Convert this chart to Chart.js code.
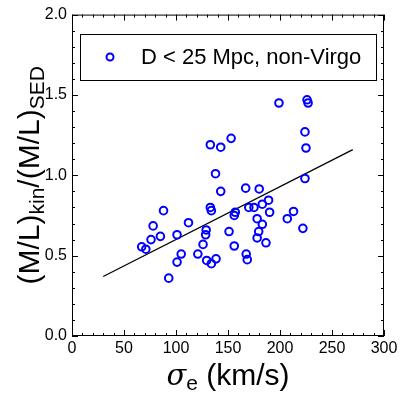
<!DOCTYPE html>
<html>
<head>
<meta charset="utf-8">
<script src="https://cdn.jsdelivr.net/npm/chart.js@4"></script>
<style>
  html, body { margin: 0; padding: 0; background: #fff; }
  #wrap { width: 407px; height: 396px; }
</style>
</head>
<body>
<div id="wrap"><canvas id="myChart" width="407" height="396"></canvas></div>
<script>
// sigma_e (km/s) and (M/L)kin/(M/L)SED
const sigmaE = [199, 226, 227, 224, 225, 224, 153, 133, 143, 138, 143, 167, 180, 189, 183, 170, 175, 190, 213, 207,
  133, 134, 157, 156, 178, 88, 112, 78, 76, 85, 101, 67, 71, 129, 128.5, 126, 121, 105, 101, 129.5,
  138.5, 134, 93, 183, 222, 151, 179.5, 178, 186.5, 156, 167.5, 168.5];
const mlRatio = [1.45, 1.47, 1.45, 1.27, 1.17, 0.98, 1.23, 1.19, 1.175, 1.01, 0.90, 0.92, 0.915, 0.845, 0.82, 0.80, 0.80, 0.77, 0.775, 0.73,
  0.80, 0.78, 0.77, 0.75, 0.73, 0.78, 0.705, 0.685, 0.60, 0.62, 0.63, 0.555, 0.54, 0.66, 0.63, 0.57, 0.51, 0.51, 0.46, 0.47,
  0.48, 0.45, 0.36, 0.695, 0.67, 0.65, 0.65, 0.61, 0.58, 0.56, 0.51, 0.475];
// fit line
const fitX = [30, 270];
const fitY = [0.37, 1.16];
const legendLabel = 'D < 25 Mpc, non-Virgo';
const xTicks = [0, 50, 100, 150, 200, 250, 300];
const yTicks = [0.0, 0.5, 1.0, 1.5, 2.0];

const FONT = '"Liberation Sans", Arial, Helvetica, sans-serif';

// frame, inward ticks on all 4 sides, axis titles, legend box
const decor = {
  id: 'decor',
  afterDraw(chart) {
    const c = chart.ctx, a = chart.chartArea;
    const xs = chart.scales.x, ys = chart.scales.y;
    c.save();
    c.strokeStyle = '#000';
    c.lineWidth = 1;
    c.strokeRect(a.left + 0.5, a.top + 0.5, a.right - a.left - 1, a.bottom - a.top - 1);
    c.beginPath();
    for (let v = 0; v <= 300; v += 10) {
      const px = Math.round(xs.getPixelForValue(v)) + 0.5;
      const len = v % 50 === 0 ? 6 : 3;
      c.moveTo(px, a.bottom); c.lineTo(px, a.bottom - len);
      c.moveTo(px, a.top); c.lineTo(px, a.top + len);
    }
    for (let i = 0; i <= 20; i++) {
      const py = Math.round(ys.getPixelForValue(i / 10)) + 0.5;
      const len = i % 5 === 0 ? 6 : 3;
      c.moveTo(a.left, py); c.lineTo(a.left + len, py);
      c.moveTo(a.right, py); c.lineTo(a.right - len, py);
    }
    c.stroke();

    // x title: sigma_e (km/s)
    c.fillStyle = '#000';
    c.textBaseline = 'alphabetic';
    c.textAlign = 'left';
    const sigFont = 'italic 29px "DejaVu Serif", serif';
    const big = '30px ' + FONT, small = '21px ' + FONT;
    c.font = sigFont;
    const wS = c.measureText('σ').width;
    c.font = small; const wE = c.measureText('e').width;
    c.font = big; const wR = c.measureText(' (km/s)').width;
    let x0 = (a.left + a.right) / 2 - (wS + wE + wR) / 2;
    const yb = 385;
    c.font = sigFont;
    c.fillText('σ', x0, yb);
    c.font = small; c.fillText('e', x0 + wS, yb + 5);
    c.font = big; c.fillText(' (km/s)', x0 + wS + wE, yb);

    // y title: (M/L)kin/(M/L)SED
    c.save();
    c.translate(39, (a.top + a.bottom) / 2);
    c.rotate(-Math.PI / 2);
    const parts = [['(M/L)', big, 0], ['kin', small, 5], ['/(M/L)', big, 0], ['SED', small, 5]];
    let tot = 0;
    parts.forEach(p => { c.font = p[1]; tot += c.measureText(p[0]).width; });
    let xx = -tot / 2;
    parts.forEach(p => { c.font = p[1]; c.fillText(p[0], xx, p[2]); xx += c.measureText(p[0]).width; });
    c.restore();

    // legend
    c.lineWidth = 1;
    c.strokeRect(80.5, 34.5, 296, 46);
    c.strokeStyle = '#0000ff';
    c.lineWidth = 2;
    c.beginPath(); c.arc(110, 57, 3.5, 0, Math.PI * 2); c.stroke();
    c.font = '22px ' + FONT;
    c.textBaseline = 'middle';
    c.fillText(legendLabel, 141, 58);
    c.restore();
  }
};

const ctx = document.getElementById('myChart');
const chart = new Chart(ctx, {
  type: 'scatter',
  data: {
    datasets: [{
      label: legendLabel,
      data: sigmaE.map((s, i) => ({ x: s, y: mlRatio[i] })),
      pointStyle: 'circle',
      pointRadius: 3.8,
      borderColor: '#0000ff',
      backgroundColor: 'rgba(0,0,0,0)',
      borderWidth: 2
    }, {
      label: 'fit',
      type: 'line',
      data: fitX.map((s, i) => ({ x: s, y: fitY[i] })),
      borderColor: '#000',
      borderWidth: 1.3,
      pointRadius: 0,
      fill: false
    }]
  },
  options: {
    responsive: false,
    animation: false,
    events: [],
    layout: { padding: { top: 14, right: 23, left: 0, bottom: 0 } },
    plugins: { legend: { display: false }, tooltip: { enabled: false } },
    scales: {
      x: {
        type: 'linear', min: 0, max: 300,
        afterBuildTicks: s => { s.ticks = xTicks.map(v => ({ value: v })); },
        afterFit: s => { s.height = 60; },
        grid: { display: false, drawTicks: false },
        border: { display: false },
        ticks: { color: '#000', font: { family: FONT, size: 16 }, padding: 3, maxRotation: 0 }
      },
      y: {
        type: 'linear', min: 0, max: 2,
        afterBuildTicks: s => { s.ticks = yTicks.map(v => ({ value: v })); },
        afterFit: s => { s.width = 72; },
        grid: { display: false, drawTicks: false },
        border: { display: false },
        ticks: { color: '#000', font: { family: FONT, size: 16 }, padding: 5, callback: v => v.toFixed(1) }
      }
    }
  },
  plugins: [decor]
});
</script>
</body>
</html>
